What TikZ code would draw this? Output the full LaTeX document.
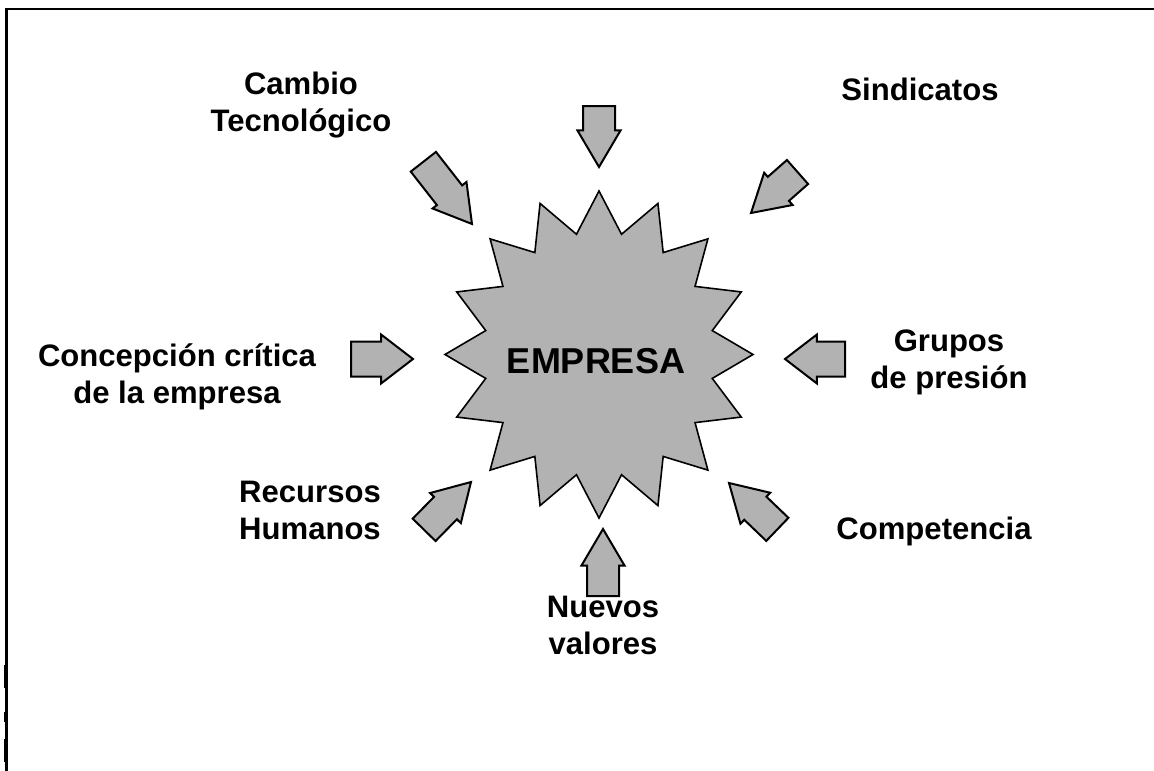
\documentclass[tikz,border=0pt]{standalone}
\usepackage{fontspec}
\setmainfont{Liberation Sans}
\usepackage{tikz}
\usetikzlibrary{shapes.arrows}

\definecolor{shapegray}{RGB}{178,178,178}

\begin{document}
\begin{tikzpicture}[x=0.75pt,y=0.75pt,yscale=-1,xscale=1,
  txt/.style={font=\fontsize{23.3}{27.75}\selectfont\bfseries, align=center, inner sep=0pt},
  blockarrow/.style={single arrow, draw=black, fill=shapegray, line width=1.5pt, line join=miter,
    text height=0pt, text depth=0pt, text width=0pt, inner xsep=0pt, inner ysep=11.25pt, minimum width=0pt,
    outer sep=0pt, anchor=tip, single arrow head extend=4.125pt, single arrow tip angle=61},
  flatarrow/.style={blockarrow, inner ysep=12.375pt, single arrow head extend=5.25pt, single arrow tip angle=75}
]
\useasboundingbox (0,0) rectangle (1154,771);

%Frame
\draw [line width=1.9pt] (1154,9) -- (6.5,9) -- (6.5,771) ;
\draw [line width=1.2pt] (5,665) -- (5,688) (5,712) -- (5,722) (5,739) -- (5,762) ;

%Shape: Star
\draw [fill=shapegray, line width=1.2pt, line join=miter] (599,191)
  \foreach \k in {0,...,15}{ -- ({599+115.5*cos(101.25+22.5*\k)},{354.5-122.6*sin(101.25+22.5*\k)})
    -- ({599+154*cos(112.5+22.5*\k)},{354.5-163.5*sin(112.5+22.5*\k)}) } -- cycle ;

% Text Node
\node [txt, font=\fontsize{27}{32}\selectfont\bfseries] (empresa) at (596,361.5) {EMPRESA};

%Shape: Block Arrows (placed by their tips)
\node [blockarrow, minimum height=45.75pt, rotate=-90] (artop) at (599,167) {};
\node [blockarrow, minimum height=59.25pt, rotate=-52] (arcambio) at (472,224) {};
\node [blockarrow, minimum height=46.5pt, rotate=-138.6] (arsind) at (751,213) {};
\node [flatarrow, minimum height=46.5pt] (arconcep) at (413,359) {};
\node [flatarrow, minimum height=45pt, rotate=180] (argrupos) at (785,359) {};
\node [blockarrow, minimum height=50.25pt, rotate=45.6] (arrecursos) at (471,482) {};
\node [blockarrow, minimum height=50.25pt, rotate=136.2] (arcompet) at (729,483) {};
\node [blockarrow, minimum height=50.25pt, rotate=90] (arnuevos) at (603,529) {};

% Text Node
\node [txt] (cambio) at (301,105.5) {Cambio\\Tecnológico};
% Text Node
\node [txt] (sind) at (920,89) {Sindicatos};
% Text Node
\node [txt] (concep) at (177,377) {Concepción crítica\\de la empresa};
% Text Node
\node [txt] (grupos) at (949,362) {Grupos\\de presión};
% Text Node
\node [txt] (recursos) at (310,510) {Recursos\\Humanos};
% Text Node
\node [txt] (compet) at (934,531) {Competencia};
% Text Node
\node [txt] (nuevos) at (603,625) {Nuevos\\valores};

\end{tikzpicture}
\end{document}
